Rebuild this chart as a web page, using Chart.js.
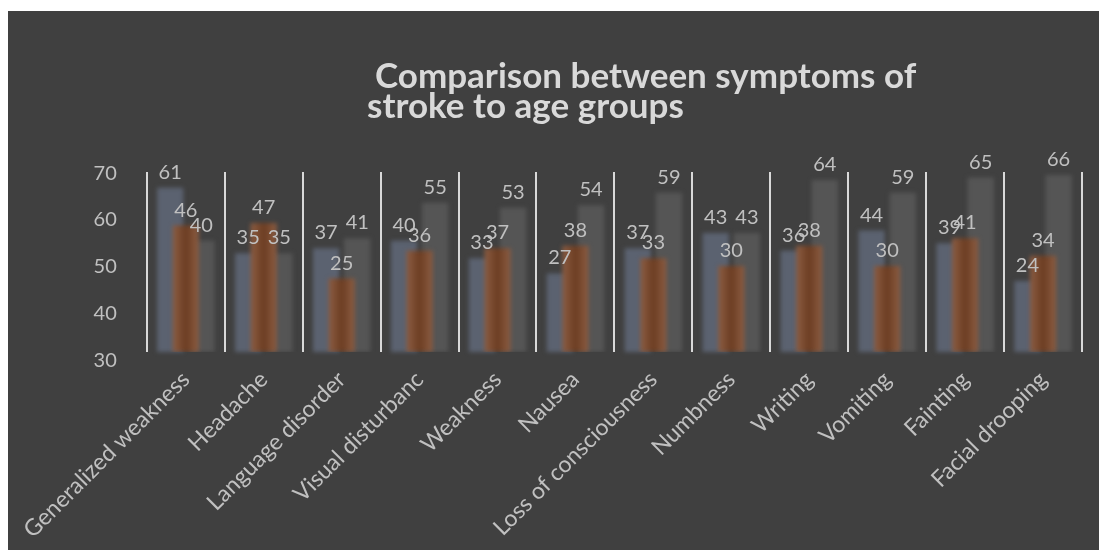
<!DOCTYPE html>
<html>
<head>
<meta charset="utf-8">
<script src="https://cdn.jsdelivr.net/npm/chart.js@4.4.1/dist/chart.umd.min.js"></script>
<style>
    html, body { margin: 0; background: #ffffff; }
    #box { position: absolute; left: 8px; top: 11px; width: 1091px; height: 539px; background: #404040; }
</style>
</head>
<body>
<div id="box"><canvas id="chart"></canvas></div>
<script>
const categories = [
    'Generalized weakness', 'Headache', 'Language disorder', 'Visual disturbanc',
    'Weakness', 'Nausea', 'Loss of consciousness', 'Numbness',
    'Writing', 'Vomiting', 'Fainting', 'Facial drooping'
];
const group1 = [61, 35, 37, 40, 33, 27, 37, 43, 36, 44, 39, 24];
const group2 = [46, 47, 25, 36, 37, 38, 33, 30, 38, 30, 41, 34];
const group3 = [40, 35, 41, 55, 53, 54, 59, 43, 64, 59, 65, 66];
const yTicks = [30, 40, 50, 60, 70];
const titleLines = ['Comparison between symptoms of', 'stroke to age groups'];

const BAR_MIN = -4.1;
const textColor = '#c0c0c0';

// orange bars are darker in the middle; the middle series sits on the category centre
function orangeFill(context) {
    const chart = context.chart;
    if (!chart.chartArea || !chart.scales.x) {
        return '#7a4b32';
    }
    const cx = chart.scales.x.getPixelForValue(context.dataIndex);
    const g = chart.ctx.createLinearGradient(cx - 13, 0, cx + 13, 0);
    g.addColorStop(0, '#8c5d43');
    g.addColorStop(0.5, '#6c3d22');
    g.addColorStop(1, '#8c5d43');
    return g;
}

// blue is drawn together with orange so that orange ends up on top
const barLayers = {
    id: 'barLayers',
    beforeDatasetDraw(chart, args) {
        if (args.index === 0) {
            return false;
        }
        const ctx = chart.ctx;
        ctx.save();
        ctx.filter = 'blur(2px)';
        if (args.index === 1) {
            chart.getDatasetMeta(0).controller.draw();
        }
    },
    afterDatasetDraw(chart, args) {
        chart.ctx.restore();
    }
};

const valueLabels = {
    id: 'valueLabels',
    afterDatasetsDraw(chart) {
        const ctx = chart.ctx;
        ctx.save();
        ctx.font = '20px Lato';
        ctx.fillStyle = textColor;
        ctx.textAlign = 'center';
        ctx.textBaseline = 'alphabetic';
        chart.data.datasets.forEach(function (ds, i) {
            chart.getDatasetMeta(i).data.forEach(function (bar, j) {
                ctx.fillText(String(ds.data[j]), bar.x, bar.y - 9);
            });
        });
        ctx.restore();
    }
};

const twoLineTitle = {
    id: 'twoLineTitle',
    afterDraw(chart) {
        const ctx = chart.ctx;
        ctx.save();
        ctx.font = 'bold 35px Lato';
        ctx.fillStyle = '#d9d9d9';
        ctx.textAlign = 'left';
        ctx.textBaseline = 'alphabetic';
        ctx.fillText(titleLines[0], 367, 77);
        ctx.fillText(titleLines[1], 359, 107);
        ctx.restore();
    }
};

new Chart(document.getElementById('chart').getContext('2d'), {
    type: 'bar',
    data: {
        labels: categories,
        datasets: [
            { label: 'Group 1', data: group1, backgroundColor: '#5b6270', yAxisID: 'yBars', base: BAR_MIN },
            { label: 'Group 2', data: group2, backgroundColor: orangeFill, yAxisID: 'yBars', base: BAR_MIN },
            { label: 'Group 3', data: group3, backgroundColor: '#555555', yAxisID: 'yBars', base: BAR_MIN }
        ]
    },
    options: {
        responsive: true,
        maintainAspectRatio: false,
        animation: false,
        categoryPercentage: 0.6,
        barPercentage: 1.68,
        layout: { padding: { top: 161, right: 17, left: 0, bottom: 0 } },
        plugins: {
            legend: { display: false },
            tooltip: { enabled: false },
            title: { display: false }
        },
        scales: {
            x: {
                grid: { color: '#d9d9d9', lineWidth: 2, offset: true, drawTicks: false },
                border: { display: false },
                ticks: {
                    color: textColor,
                    font: { family: 'Lato', size: 23 },
                    minRotation: 45,
                    maxRotation: 45,
                    autoSkip: false,
                    padding: 14
                },
                afterFit(axis) { axis.height = 198; }
            },
            y: {
                position: 'left',
                min: 31.74,
                max: 70.28,
                afterBuildTicks(axis) {
                    axis.ticks = yTicks.map(function (v) { return { value: v }; });
                },
                grid: { display: false },
                border: { display: false },
                ticks: { color: textColor, font: { family: 'Lato', size: 20 }, padding: 22 },
                afterFit(axis) { axis.width = 138; }
            },
            yBars: {
                display: false,
                min: BAR_MIN,
                max: 67.2
            }
        }
    },
    plugins: [barLayers, valueLabels, twoLineTitle]
});
</script>
</body>
</html>
